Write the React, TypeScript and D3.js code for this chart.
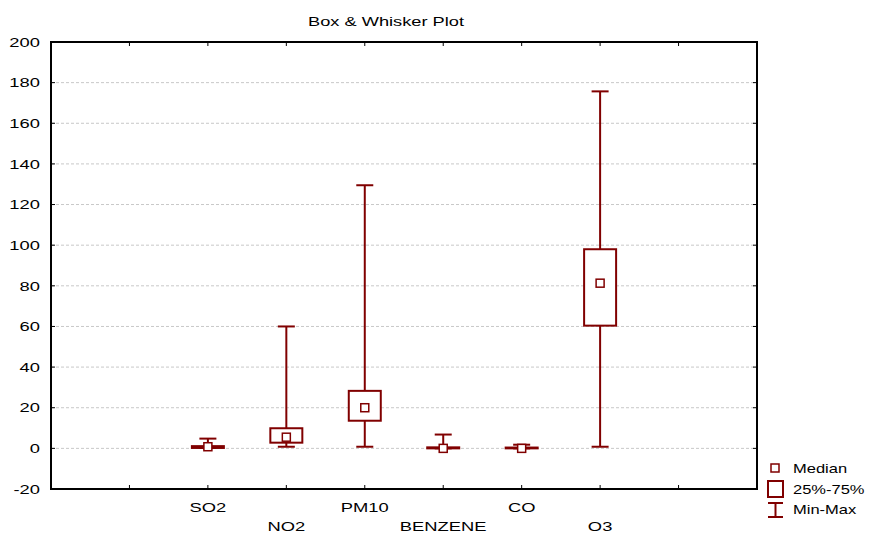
import React from "react";
import * as d3 from "d3";

const WIDTH = 870;
const HEIGHT = 534;

// values
const categories = ["SO2", "NO2", "PM10", "BENZENE", "CO", "O3"];
const mins = [0.2, 0.8, 0.8, 0, 0, 0.8];
const q1s = [0.2, 2.8, 13.6, 0, 0, 60.4];
const medians = [0.8, 5.5, 20, 0, 0, 81.3];
const q3s = [1.1, 9.9, 28.3, 0.5, 0.4, 98];
const maxs = [4.8, 60, 129.5, 6.8, 1.8, 175.7];
const yTicks = [-20, 0, 20, 40, 60, 80, 100, 120, 140, 160, 180, 200];
const legendLabels = ["Median", "25%-75%", "Min-Max"];

const COLOR = "#800000";
const FONT = "Liberation Sans, Arial, sans-serif";

const margin = { top: 42, right: 113, bottom: 45, left: 51 };

// the original renders its text horizontally stretched
function WideText({ x, y, anchor = "start", size = 13.5, sx = 1.36, dy, children }) {
  return (
    <text
      transform={`translate(${x},${y}) scale(${sx},1)`}
      textAnchor={anchor}
      fontSize={size}
      dy={dy}
      fill="#000"
    >
      {children}
    </text>
  );
}

export default function App() {
  const width = WIDTH - margin.left - margin.right;
  const height = HEIGHT - margin.top - margin.bottom;

  // categories sit at positions 2..7 of a 0..9 axis
  const x = d3.scaleLinear().domain([0, 9]).range([0, width]);
  const y = d3.scaleLinear().domain([-20, 200]).range([height, 0]);
  const xTicks = d3.range(1, 9);

  const boxW = 32;
  const capW = 17;
  const med = 8;

  return (
    <svg
      width={WIDTH}
      height={HEIGHT}
      style={{ position: "absolute", left: 0, top: 0, background: "#fff" }}
      fontFamily={FONT}
    >
      <WideText x={386} y={25.5} anchor="middle" size={12} sx={1.52}>
        Box &amp; Whisker Plot
      </WideText>
      <g transform={`translate(${margin.left},${margin.top})`}>
        {/* grid */}
        {yTicks
          .filter((t) => t > -20 && t < 200)
          .map((t) => (
            <line
              key={"g" + t}
              x1={0}
              x2={width}
              y1={y(t)}
              y2={y(t)}
              stroke="#c8c8c8"
              strokeDasharray="3,2"
            />
          ))}
        {/* y ticks + labels */}
        {yTicks.map((t) => (
          <g key={"y" + t}>
            <line x1={0} x2={4} y1={y(t)} y2={y(t)} stroke="#000" />
            <line x1={width - 4} x2={width} y1={y(t)} y2={y(t)} stroke="#000" />
            <WideText x={-11} y={y(t)} dy="0.35em" anchor="end">
              {t}
            </WideText>
          </g>
        ))}
        {/* x ticks */}
        {xTicks.map((t) => (
          <g key={"x" + t}>
            <line x1={x(t)} x2={x(t)} y1={height} y2={height - 4} stroke="#000" />
            <line x1={x(t)} x2={x(t)} y1={0} y2={4} stroke="#000" />
          </g>
        ))}
        {categories.map((c, i) => (
          <WideText
            key={c}
            x={x(i + 2)}
            y={height + (i % 2 === 0 ? 23 : 42)}
            anchor="middle"
          >
            {c}
          </WideText>
        ))}
        {/* boxes */}
        {categories.map((c, i) => {
          const cx = x(i + 2);
          return (
            <g key={"b" + c} stroke={COLOR} fill="#fff">
              <line x1={cx} x2={cx} y1={y(mins[i])} y2={y(maxs[i])} strokeWidth={2} />
              <line
                x1={cx - capW / 2}
                x2={cx + capW / 2}
                y1={y(mins[i])}
                y2={y(mins[i])}
                strokeWidth={2}
              />
              <line
                x1={cx - capW / 2}
                x2={cx + capW / 2}
                y1={y(maxs[i])}
                y2={y(maxs[i])}
                strokeWidth={2}
              />
              <rect
                x={cx - boxW / 2}
                y={y(q3s[i])}
                width={boxW}
                height={Math.max(y(q1s[i]) - y(q3s[i]), 0.5)}
                strokeWidth={2}
              />
              <rect
                x={cx - med / 2}
                y={y(medians[i]) - med / 2}
                width={med}
                height={med}
                strokeWidth={1.5}
              />
            </g>
          );
        })}
        {/* frame */}
        <rect x={0} y={0} width={width} height={height} fill="none" stroke="#000" strokeWidth={2} />
      </g>
      {/* legend */}
      <g stroke={COLOR} fill="#fff">
        <rect x={771} y={464} width={8} height={8} strokeWidth={1.5} />
        <rect x={768} y={481} width={15} height={16} strokeWidth={2} />
        <line x1={775.5} x2={775.5} y1={503} y2={517} strokeWidth={2} />
        <line x1={768} x2={783} y1={503} y2={503} strokeWidth={2} />
        <line x1={768} x2={783} y1={517} y2={517} strokeWidth={2} />
      </g>
      {legendLabels.map((l, i) => (
        <WideText key={l} x={793} y={473 + i * 20.5} size={13} sx={1.27}>
          {l}
        </WideText>
      ))}
    </svg>
  );
}
